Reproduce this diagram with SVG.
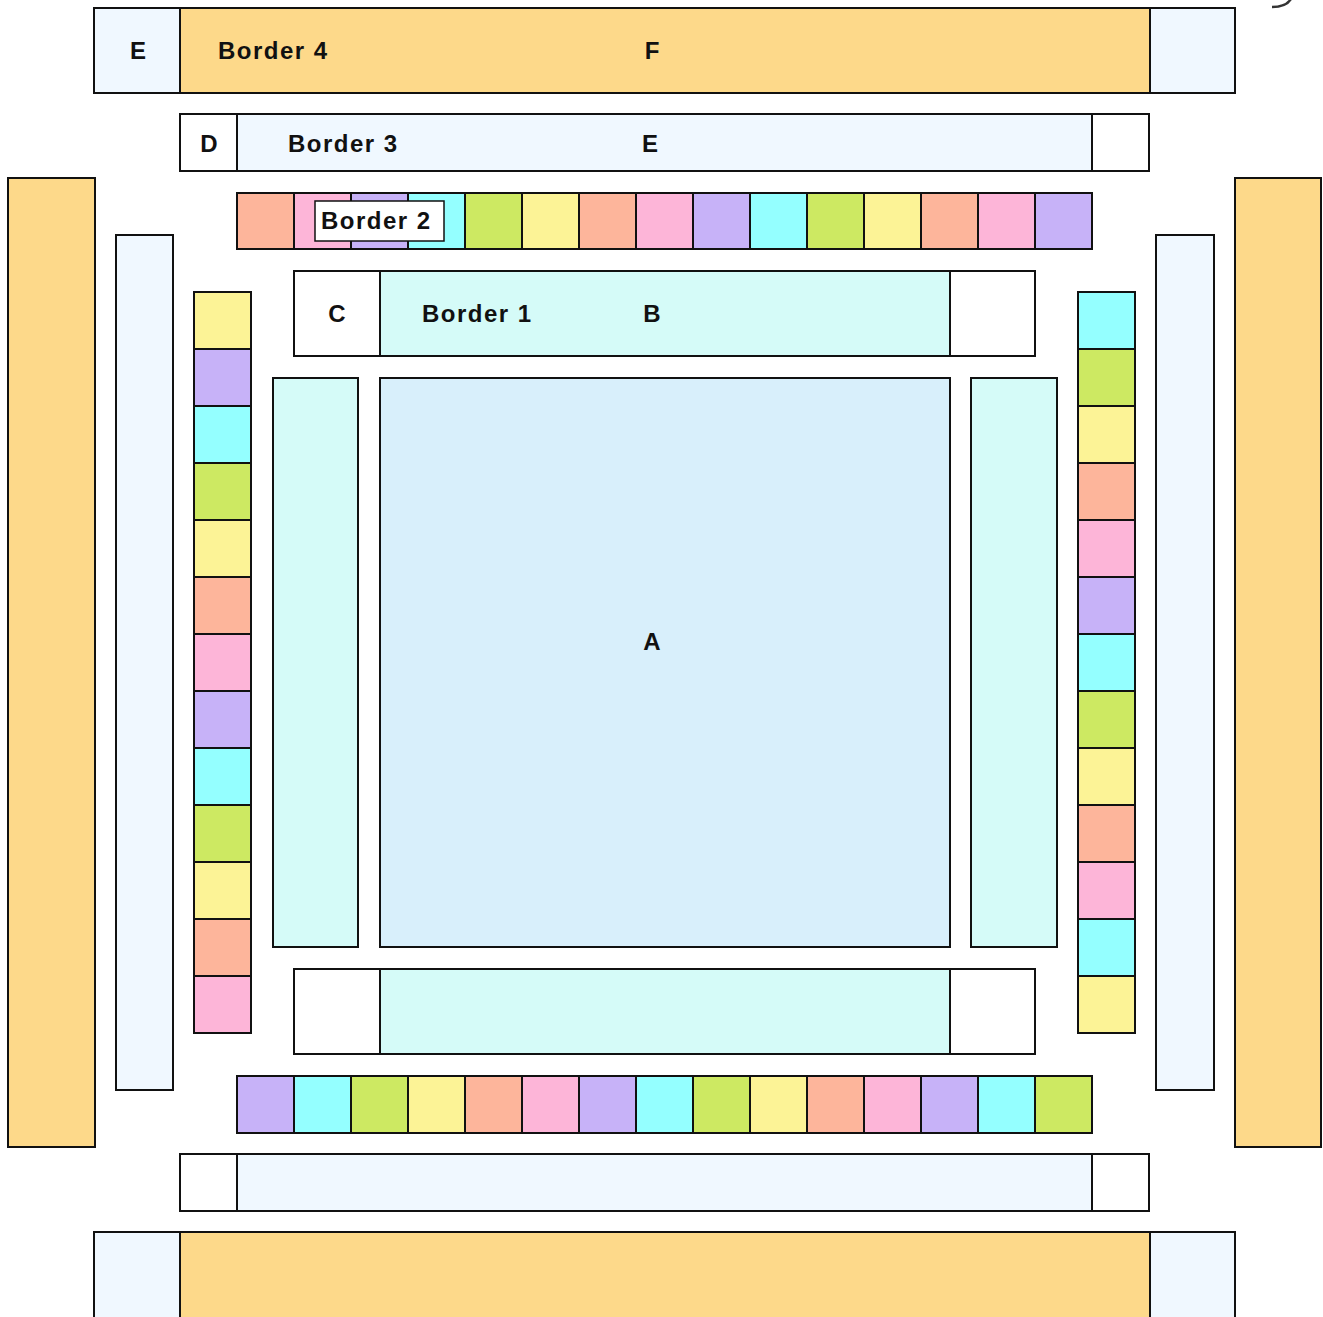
<svg xmlns="http://www.w3.org/2000/svg" width="1323" height="1317" viewBox="0 0 1323 1317">
<style>
rect{stroke:#111;stroke-width:2}
.o{fill:#FDD98A}.l{fill:#F0F8FF}.w{fill:#FFFFFF}.c{fill:#D5FBF8}.a{fill:#D8EFFB}
.s{fill:#FDB59B}.p{fill:#FDB5D8}.u{fill:#C7B2F8}.y{fill:#94FFFF}.g{fill:#CDE962}.e{fill:#FCF396}
text{font-family:"Liberation Sans",Arial,sans-serif;font-weight:bold;font-size:24px;fill:#111}
.m{text-anchor:middle}
.t{letter-spacing:1.5px}
</style>
<rect x="0" y="0" width="1323" height="1317" fill="#fff" style="stroke:none"/>
<g id="border4-top">
<rect class="l" x="94" y="8" width="86" height="85"/>
<rect class="o" x="180" y="8" width="970" height="85"/>
<rect class="l" x="1150" y="8" width="85" height="85"/>
<text class="m" x="138" y="59">E</text>
<text class="t" x="218" y="59">Border 4</text>
<text class="m" x="652" y="59">F</text>
</g>
<g id="border3-top">
<rect class="w" x="180" y="114" width="57" height="57"/>
<rect class="l" x="237" y="114" width="855" height="57"/>
<rect class="w" x="1092" y="114" width="57" height="57"/>
<text class="m" x="209" y="152">D</text>
<text class="t" x="288" y="152">Border 3</text>
<text class="m" x="650" y="152">E</text>
</g>
<g id="border2-top">
<rect class="s" x="237" y="193" width="57" height="56"/>
<rect class="p" x="294" y="193" width="57" height="56"/>
<rect class="u" x="351" y="193" width="57" height="56"/>
<rect class="y" x="408" y="193" width="57" height="56"/>
<rect class="g" x="465" y="193" width="57" height="56"/>
<rect class="e" x="522" y="193" width="57" height="56"/>
<rect class="s" x="579" y="193" width="57" height="56"/>
<rect class="p" x="636" y="193" width="57" height="56"/>
<rect class="u" x="693" y="193" width="57" height="56"/>
<rect class="y" x="750" y="193" width="57" height="56"/>
<rect class="g" x="807" y="193" width="57" height="56"/>
<rect class="e" x="864" y="193" width="57" height="56"/>
<rect class="s" x="921" y="193" width="57" height="56"/>
<rect class="p" x="978" y="193" width="57" height="56"/>
<rect class="u" x="1035" y="193" width="57" height="56"/>
<rect class="w" x="315" y="201" width="129" height="40" style="stroke-width:1.5"/>
<text class="t" x="321" y="229">Border 2</text>
</g>
<g id="border1-top">
<rect class="w" x="294" y="271" width="86" height="85"/>
<rect class="c" x="380" y="271" width="570" height="85"/>
<rect class="w" x="950" y="271" width="85" height="85"/>
<text class="m" x="337" y="322">C</text>
<text class="t" x="422" y="322">Border 1</text>
<text class="m" x="652" y="322">B</text>
</g>
<g id="border1-left"><rect class="c" x="273" y="378" width="85" height="569"/></g>
<g id="center-A">
<rect class="a" x="380" y="378" width="570" height="569"/>
<text class="m" x="652" y="650">A</text>
</g>
<g id="border1-right"><rect class="c" x="971" y="378" width="86" height="569"/></g>
<g id="border1-bottom">
<rect class="w" x="294" y="969" width="86" height="85"/>
<rect class="c" x="380" y="969" width="570" height="85"/>
<rect class="w" x="950" y="969" width="85" height="85"/>
</g>
<g id="border2-bottom">
<rect class="u" x="237" y="1076" width="57" height="57"/>
<rect class="y" x="294" y="1076" width="57" height="57"/>
<rect class="g" x="351" y="1076" width="57" height="57"/>
<rect class="e" x="408" y="1076" width="57" height="57"/>
<rect class="s" x="465" y="1076" width="57" height="57"/>
<rect class="p" x="522" y="1076" width="57" height="57"/>
<rect class="u" x="579" y="1076" width="57" height="57"/>
<rect class="y" x="636" y="1076" width="57" height="57"/>
<rect class="g" x="693" y="1076" width="57" height="57"/>
<rect class="e" x="750" y="1076" width="57" height="57"/>
<rect class="s" x="807" y="1076" width="57" height="57"/>
<rect class="p" x="864" y="1076" width="57" height="57"/>
<rect class="u" x="921" y="1076" width="57" height="57"/>
<rect class="y" x="978" y="1076" width="57" height="57"/>
<rect class="g" x="1035" y="1076" width="57" height="57"/>
</g>
<g id="border3-bottom">
<rect class="w" x="180" y="1154" width="57" height="57"/>
<rect class="l" x="237" y="1154" width="855" height="57"/>
<rect class="w" x="1092" y="1154" width="57" height="57"/>
</g>
<g id="border4-bottom">
<rect class="l" x="94" y="1232" width="86" height="100"/>
<rect class="o" x="180" y="1232" width="970" height="100"/>
<rect class="l" x="1150" y="1232" width="85" height="100"/>
</g>
<g id="border4-left"><rect class="o" x="8" y="178" width="87" height="969"/></g>
<g id="border3-left"><rect class="l" x="116" y="235" width="57" height="855"/></g>
<g id="border2-left">
<rect class="e" x="194" y="292" width="57" height="57"/>
<rect class="u" x="194" y="349" width="57" height="57"/>
<rect class="y" x="194" y="406" width="57" height="57"/>
<rect class="g" x="194" y="463" width="57" height="57"/>
<rect class="e" x="194" y="520" width="57" height="57"/>
<rect class="s" x="194" y="577" width="57" height="57"/>
<rect class="p" x="194" y="634" width="57" height="57"/>
<rect class="u" x="194" y="691" width="57" height="57"/>
<rect class="y" x="194" y="748" width="57" height="57"/>
<rect class="g" x="194" y="805" width="57" height="57"/>
<rect class="e" x="194" y="862" width="57" height="57"/>
<rect class="s" x="194" y="919" width="57" height="57"/>
<rect class="p" x="194" y="976" width="57" height="57"/>
</g>
<g id="border2-right">
<rect class="y" x="1078" y="292" width="57" height="57"/>
<rect class="g" x="1078" y="349" width="57" height="57"/>
<rect class="e" x="1078" y="406" width="57" height="57"/>
<rect class="s" x="1078" y="463" width="57" height="57"/>
<rect class="p" x="1078" y="520" width="57" height="57"/>
<rect class="u" x="1078" y="577" width="57" height="57"/>
<rect class="y" x="1078" y="634" width="57" height="57"/>
<rect class="g" x="1078" y="691" width="57" height="57"/>
<rect class="e" x="1078" y="748" width="57" height="57"/>
<rect class="s" x="1078" y="805" width="57" height="57"/>
<rect class="p" x="1078" y="862" width="57" height="57"/>
<rect class="y" x="1078" y="919" width="57" height="57"/>
<rect class="e" x="1078" y="976" width="57" height="57"/>
</g>
<g id="border3-right"><rect class="l" x="1156" y="235" width="58" height="855"/></g>
<g id="border4-right"><rect class="o" x="1235" y="178" width="86" height="969"/></g>
<g id="connectors"></g>
<path d="M1291,-1 Q1286,7 1272,7" fill="none" stroke="#333" stroke-width="2.5"/>
</svg>
